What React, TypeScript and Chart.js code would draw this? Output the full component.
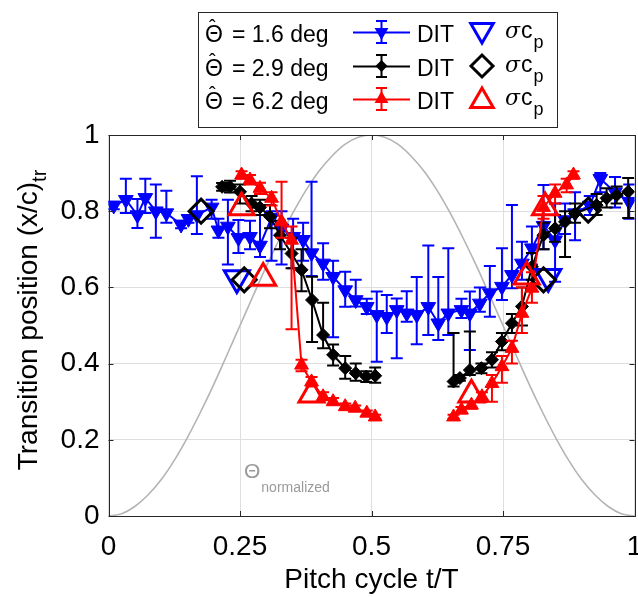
import React, { useEffect, useRef } from "react";
import { Chart, registerables } from "chart.js";

Chart.register(...registerables);

const FONT = "'Liberation Sans', Arial, Helvetica, sans-serif";

const xTicks = [0, 0.25, 0.5, 0.75, 1];
const xTickLabels = ["0", "0.25", "0.5", "0.75", "1"];
const yTicks = [0, 0.2, 0.4, 0.6, 0.8, 1];
const yTickLabels = ["0", "0.2", "0.4", "0.6", "0.8", "1"];

const xTitle = "Pitch cycle t/T";
const yTitleMain = "Transition position (x/c)";
const yTitleSub = "tr";
const curveLabelMain = "Θ";
const curveLabelSub = "normalized";

const legendAmplitudes = ["= 1.6 deg", "= 2.9 deg", "= 6.2 deg"];
const legendDit = "DIT";

// normalized pitch angle
const thetaX = [0, 0.025, 0.05, 0.075, 0.1, 0.125, 0.15, 0.175, 0.2, 0.225, 0.25, 0.275, 0.3, 0.325, 0.35, 0.375, 0.4, 0.425, 0.45, 0.475, 0.5, 0.525, 0.55, 0.575, 0.6, 0.625, 0.65, 0.675, 0.7, 0.725, 0.75, 0.775, 0.8, 0.825, 0.85, 0.875, 0.9, 0.925, 0.95, 0.975, 1];
const thetaY = [0, 0.006, 0.025, 0.055, 0.095, 0.146, 0.206, 0.273, 0.345, 0.422, 0.5, 0.578, 0.655, 0.727, 0.794, 0.854, 0.905, 0.945, 0.976, 0.994, 1, 0.994, 0.976, 0.945, 0.905, 0.854, 0.794, 0.727, 0.655, 0.578, 0.5, 0.422, 0.345, 0.273, 0.206, 0.146, 0.095, 0.055, 0.025, 0.006, 0];

// 1.6 deg DIT
const blueX = [0.010, 0.033, 0.055, 0.070, 0.090, 0.110, 0.138, 0.152, 0.168, 0.196, 0.209, 0.227, 0.247, 0.269, 0.288, 0.310, 0.329, 0.351, 0.370, 0.386, 0.408, 0.427, 0.450, 0.470, 0.491, 0.510, 0.529, 0.548, 0.567, 0.586, 0.608, 0.627, 0.646, 0.671, 0.687, 0.706, 0.725, 0.748, 0.767, 0.786, 0.805, 0.827, 0.849, 0.868, 0.887, 0.915, 0.935, 0.963, 0.990];
const blueY = [0.815, 0.830, 0.790, 0.835, 0.800, 0.795, 0.765, 0.780, 0.790, 0.810, 0.750, 0.760, 0.730, 0.733, 0.710, 0.783, 0.755, 0.733, 0.725, 0.690, 0.663, 0.628, 0.593, 0.567, 0.549, 0.528, 0.523, 0.541, 0.532, 0.528, 0.549, 0.506, 0.532, 0.541, 0.532, 0.558, 0.585, 0.602, 0.633, 0.663, 0.703, 0.762, 0.724, 0.777, 0.795, 0.815, 0.885, 0.850, 0.825];
const blueLo = [0.805, 0.795, 0.756, 0.795, 0.730, 0.770, 0.755, 0.770, 0.740, 0.780, 0.730, 0.660, 0.690, 0.700, 0.680, 0.670, 0.660, 0.650, 0.670, 0.630, 0.620, 0.469, 0.549, 0.550, 0.530, 0.405, 0.480, 0.414, 0.510, 0.451, 0.475, 0.462, 0.475, 0.520, 0.436, 0.536, 0.523, 0.567, 0.598, 0.620, 0.660, 0.700, 0.615, 0.740, 0.724, 0.790, 0.850, 0.810, 0.780];
const blueHi = [0.825, 0.885, 0.832, 0.885, 0.870, 0.854, 0.775, 0.790, 0.892, 0.830, 0.780, 0.830, 0.777, 0.775, 0.816, 0.800, 0.800, 0.780, 0.770, 0.877, 0.716, 0.670, 0.641, 0.620, 0.570, 0.589, 0.580, 0.571, 0.590, 0.627, 0.710, 0.627, 0.703, 0.570, 0.589, 0.600, 0.656, 0.703, 0.816, 0.720, 0.760, 0.869, 0.820, 0.820, 0.850, 0.840, 0.900, 0.890, 0.870];

// 2.9 deg DIT (two branches)
const blackX1 = [0.216, 0.231, 0.250, 0.272, 0.288, 0.307, 0.326, 0.348, 0.367, 0.387, 0.408, 0.427, 0.450, 0.470, 0.490, 0.507];
const blackY1 = [0.864, 0.864, 0.851, 0.820, 0.810, 0.786, 0.737, 0.689, 0.646, 0.567, 0.475, 0.423, 0.388, 0.375, 0.366, 0.368];
const blackLo1 = [0.854, 0.849, 0.820, 0.800, 0.790, 0.755, 0.700, 0.650, 0.590, 0.457, 0.440, 0.395, 0.360, 0.355, 0.352, 0.350];
const blackHi1 = [0.874, 0.880, 0.870, 0.840, 0.830, 0.816, 0.775, 0.730, 0.700, 0.628, 0.560, 0.450, 0.420, 0.400, 0.380, 0.390];
const blackX2 = [0.656, 0.668, 0.687, 0.709, 0.729, 0.748, 0.767, 0.786, 0.805, 0.827, 0.849, 0.868, 0.887, 0.928, 0.947, 0.966, 0.988];
const blackY2 = [0.353, 0.362, 0.383, 0.388, 0.410, 0.458, 0.506, 0.550, 0.654, 0.737, 0.755, 0.772, 0.794, 0.816, 0.834, 0.842, 0.851];
const blackLo2 = [0.340, 0.355, 0.370, 0.375, 0.390, 0.435, 0.480, 0.500, 0.620, 0.700, 0.720, 0.680, 0.770, 0.790, 0.810, 0.820, 0.782];
const blackHi2 = [0.480, 0.370, 0.484, 0.400, 0.430, 0.480, 0.530, 0.600, 0.690, 0.770, 0.790, 0.800, 0.820, 0.845, 0.860, 0.865, 0.887];

// 6.2 deg DIT (two branches)
const redX1 = [0.253, 0.269, 0.288, 0.310, 0.329, 0.348, 0.367, 0.386, 0.408, 0.427, 0.450, 0.469, 0.491, 0.507];
const redY1 = [0.895, 0.882, 0.860, 0.834, 0.772, 0.724, 0.396, 0.352, 0.313, 0.300, 0.287, 0.283, 0.270, 0.260];
const redLo1 = [0.885, 0.870, 0.845, 0.815, 0.730, 0.490, 0.380, 0.340, 0.305, 0.292, 0.280, 0.276, 0.264, 0.255];
const redHi1 = [0.905, 0.895, 0.875, 0.850, 0.877, 0.760, 0.410, 0.365, 0.325, 0.310, 0.295, 0.290, 0.277, 0.266];
const redX2 = [0.656, 0.671, 0.690, 0.710, 0.729, 0.748, 0.767, 0.786, 0.805, 0.827, 0.849, 0.871, 0.884];
const redY2 = [0.260, 0.278, 0.291, 0.313, 0.348, 0.392, 0.440, 0.532, 0.598, 0.810, 0.847, 0.869, 0.895];
const redLo2 = [0.255, 0.270, 0.282, 0.300, 0.300, 0.350, 0.400, 0.480, 0.560, 0.780, 0.820, 0.850, 0.885];
const redHi2 = [0.266, 0.286, 0.300, 0.325, 0.370, 0.420, 0.460, 0.600, 0.640, 0.840, 0.870, 0.885, 0.905];

// sigma c_p estimates
const blueSigmaX = [0.244, 0.836];
const blueSigmaY = [0.625, 0.628];
const blackSigmaX = [0.176, 0.258, 0.827, 0.912];
const blackSigmaY = [0.800, 0.620, 0.620, 0.803];
const redSigmaX = [0.253, 0.294, 0.386, 0.690, 0.795, 0.830];
const redSigmaY = [0.810, 0.625, 0.318, 0.318, 0.628, 0.810];

const BLUE = "#0000ff";
const BLACK = "#000000";
const RED = "#ff0000";
const AXIS = "#262626";

// target plot-area edges in the 638 x 597 canvas
const AREA = { left: 108.5, right: 634.5, top: 135, bottom: 516 };

const pts = (xs: number[], ys: number[]) => xs.map((x, i) => ({ x, y: ys[i] }));

function polygon(ctx: CanvasRenderingContext2D, p: [number, number][]) {
  ctx.beginPath();
  ctx.moveTo(p[0][0], p[0][1]);
  for (let i = 1; i < p.length; i++) ctx.lineTo(p[i][0], p[i][1]);
  ctx.closePath();
}

function marker(ctx: CanvasRenderingContext2D, kind: string, x: number, y: number, r: number) {
  const s = Math.sqrt(3) / 2;
  if (kind === "down") polygon(ctx, [[x, y + r], [x - s * r, y - r / 2], [x + s * r, y - r / 2]]);
  else if (kind === "up") polygon(ctx, [[x, y - r], [x + s * r, y + r / 2], [x - s * r, y + r / 2]]);
  else polygon(ctx, [[x - r, y], [x, y - r], [x + r, y], [x, y + r]]);
}

const errorBarPlugin = {
  id: "errorBars",
  beforeDatasetDraw(chart: any, args: any) {
    const ds = chart.data.datasets[args.index];
    if (!ds.errLo) return;
    const xs = chart.scales.x;
    const ys = chart.scales.y;
    const ctx: CanvasRenderingContext2D = chart.ctx;
    const a = chart.chartArea;
    ctx.save();
    ctx.beginPath();
    ctx.rect(a.left, a.top, a.right - a.left, a.bottom - a.top);
    ctx.clip();
    ctx.strokeStyle = ds.borderColor;
    ctx.lineWidth = 2;
    ds.data.forEach((p: any, i: number) => {
      const px = xs.getPixelForValue(p.x);
      const lo = ys.getPixelForValue(ds.errLo[i]);
      const hi = ys.getPixelForValue(ds.errHi[i]);
      ctx.beginPath();
      ctx.moveTo(px, lo);
      ctx.lineTo(px, hi);
      ctx.moveTo(px - 6, lo);
      ctx.lineTo(px + 6, lo);
      ctx.moveTo(px - 6, hi);
      ctx.lineTo(px + 6, hi);
      ctx.stroke();
    });
    ctx.restore();
  },
};

const decorPlugin = {
  id: "decor",
  afterDatasetsDraw(chart: any) {
    const ctx: CanvasRenderingContext2D = chart.ctx;
    const a = chart.chartArea;
    const xs = chart.scales.x;
    const ys = chart.scales.y;
    ctx.save();
    // inner ticks
    ctx.strokeStyle = AXIS;
    ctx.lineWidth = 1;
    ctx.beginPath();
    xTicks.forEach((v) => {
      const px = Math.round(xs.getPixelForValue(v)) + 0.5;
      ctx.moveTo(px, a.bottom);
      ctx.lineTo(px, a.bottom - 5);
      ctx.moveTo(px, a.top);
      ctx.lineTo(px, a.top + 5);
    });
    yTicks.forEach((v) => {
      const py = Math.round(ys.getPixelForValue(v)) + 0.5;
      ctx.moveTo(a.left, py);
      ctx.lineTo(a.left + 5, py);
      ctx.moveTo(a.right, py);
      ctx.lineTo(a.right - 5, py);
    });
    ctx.stroke();
    // box
    ctx.strokeRect(Math.round(a.left) + 0.5, Math.round(a.top) + 0.5, Math.round(a.right - a.left), Math.round(a.bottom - a.top));

    // curve label
    ctx.fillStyle = "#9a9a9a";
    ctx.textBaseline = "alphabetic";
    ctx.textAlign = "left";
    ctx.font = `21px ${FONT}`;
    ctx.fillText(curveLabelMain, 244, 478);
    const tw = ctx.measureText(curveLabelMain).width;
    ctx.font = `14px ${FONT}`;
    ctx.fillText(curveLabelSub, 244 + tw + 1, 492);

    // axis titles
    ctx.fillStyle = "#000";
    ctx.font = `28px ${FONT}`;
    ctx.textAlign = "center";
    ctx.fillText(xTitle, (a.left + a.right) / 2, 588);

    ctx.save();
    ctx.translate(37, 320);
    ctx.rotate(-Math.PI / 2);
    ctx.font = `28px ${FONT}`;
    const wm = ctx.measureText(yTitleMain).width;
    ctx.font = `20px ${FONT}`;
    const ws = ctx.measureText(yTitleSub).width;
    const start = -(wm + ws) / 2;
    ctx.textAlign = "left";
    ctx.font = `28px ${FONT}`;
    ctx.fillText(yTitleMain, start, 0);
    ctx.font = `20px ${FONT}`;
    ctx.fillText(yTitleSub, start + wm, 9);
    ctx.restore();

    // legend
    const L = 198, T = 12, R = 557, B = 127;
    ctx.fillStyle = "#fff";
    ctx.fillRect(L, T, R - L, B - T);
    ctx.strokeStyle = AXIS;
    ctx.lineWidth = 1;
    ctx.strokeRect(L + 0.5, T + 0.5, R - L, B - T);
    const rows = [32, 66, 99];
    const cols = [BLUE, BLACK, RED];
    const kinds = ["down", "diamond", "up"];
    rows.forEach((ry, i) => {
      ctx.fillStyle = "#000";
      ctx.textAlign = "left";
      ctx.textBaseline = "alphabetic";
      ctx.font = `23px ${FONT}`;
      ctx.fillText("Θ", 205, ry + 10);
      ctx.font = `20px ${FONT}`;
      ctx.fillText("ˆ", 209, ry + 2);
      ctx.font = `23px ${FONT}`;
      ctx.fillText(legendAmplitudes[i], 232, ry + 10);
      // DIT sample
      ctx.strokeStyle = cols[i];
      ctx.lineWidth = 2;
      ctx.beginPath();
      ctx.moveTo(353, ry + 0.5);
      ctx.lineTo(410, ry + 0.5);
      ctx.moveTo(381.5, ry - 11);
      ctx.lineTo(381.5, ry + 11);
      ctx.moveTo(376, ry - 11);
      ctx.lineTo(387, ry - 11);
      ctx.moveTo(376, ry + 11);
      ctx.lineTo(387, ry + 11);
      ctx.stroke();
      ctx.fillStyle = cols[i];
      marker(ctx, kinds[i], 381.5, ry, kinds[i] === "diamond" ? 6 : 8);
      ctx.fill();
      ctx.fillStyle = "#000";
      ctx.font = `23px ${FONT}`;
      ctx.fillText(legendDit, 417, ry + 10);
      // sigma sample
      ctx.strokeStyle = cols[i];
      ctx.lineWidth = 3;
      marker(ctx, kinds[i], 482, ry + (kinds[i] === "down" ? -2 : kinds[i] === "up" ? 2 : 0), kinds[i] === "diamond" ? 11 : 13);
      ctx.stroke();
      ctx.fillStyle = "#000";
      ctx.font = `italic 22px 'DejaVu Serif', serif`;
      ctx.fillText("σ", 505, ry + 6);
      const sw = ctx.measureText("σ").width;
      ctx.font = `23px ${FONT}`;
      ctx.fillText("c", 505 + sw + 1, ry + 6);
      const cw = ctx.measureText("c").width;
      ctx.font = `18px ${FONT}`;
      ctx.fillText("p", 505 + sw + cw + 2, ry + 16);
    });
    ctx.restore();
  },
};

function dataset(label: string, xs: number[], ys: number[], color: string, style: string, radius: number, order: number, lo?: number[], hi?: number[]) {
  const ds: any = {
    label,
    data: pts(xs, ys),
    borderColor: color,
    backgroundColor: color,
    borderWidth: 2,
    pointStyle: style === "diamond" ? "rectRot" : "triangle",
    rotation: style === "down" ? 180 : 0,
    pointRadius: radius,
    pointBorderWidth: 1,
    pointBackgroundColor: color,
    pointBorderColor: color,
    showLine: true,
    order,
  };
  if (lo) {
    ds.errLo = lo;
    ds.errHi = hi;
  }
  return ds;
}

function sigmaSet(label: string, xs: number[], ys: number[], color: string, style: string, radius: number, order: number) {
  return {
    label,
    data: pts(xs, ys),
    showLine: false,
    borderColor: color,
    backgroundColor: "rgba(0,0,0,0)",
    pointStyle: style === "diamond" ? "rectRot" : "triangle",
    rotation: style === "down" ? 180 : 0,
    pointRadius: radius,
    pointBorderWidth: 3,
    pointBackgroundColor: "rgba(0,0,0,0)",
    pointBorderColor: color,
    order,
  };
}

export default function App() {
  const ref = useRef<HTMLCanvasElement>(null);
  useEffect(() => {
    const canvas = ref.current!;
    const chart = new Chart(canvas, {
      type: "line",
      data: {
        datasets: [
          {
            label: "theta",
            data: pts(thetaX, thetaY),
            borderColor: "#b4b4b4",
            borderWidth: 1.6,
            pointRadius: 0,
            cubicInterpolationMode: "monotone",
            order: 20,
          } as any,
          dataset("b", blueX, blueY, BLUE, "down", 8.5, 12, blueLo, blueHi),
          dataset("k1", blackX1, blackY1, BLACK, "diamond", 6.5, 11, blackLo1, blackHi1),
          dataset("k2", blackX2, blackY2, BLACK, "diamond", 6.5, 11, blackLo2, blackHi2),
          dataset("r1", redX1, redY1, RED, "up", 8, 10, redLo1, redHi1),
          dataset("r2", redX2, redY2, RED, "up", 8, 10, redLo2, redHi2),
          sigmaSet("bs", blueSigmaX, blueSigmaY, BLUE, "down", 14.5, 3),
          sigmaSet("ks", blackSigmaX, blackSigmaY, BLACK, "diamond", 12, 2),
          sigmaSet("rs", redSigmaX, redSigmaY, RED, "up", 14.5, 1),
        ],
      },
      options: {
        responsive: false,
        animation: false,
        devicePixelRatio: 1,
        layout: { autoPadding: false, padding: { left: 0, right: 3.5, top: 135, bottom: 0 } },
        plugins: { legend: { display: false }, tooltip: { enabled: false } },
        scales: {
          x: {
            type: "linear",
            min: 0,
            max: 1,
            afterBuildTicks: (s: any) => {
              s.ticks = xTicks.map((v) => ({ value: v }));
            },
            afterFit: (s: any) => {
              s.height = 81;
              s.paddingLeft = 0;
              s.paddingRight = 0;
            },
            ticks: {
              callback: (_v: any, i: number) => xTickLabels[i],
              font: { family: FONT, size: 28 },
              color: "#000",
              padding: 14,
              maxRotation: 0,
              autoSkip: false,
            },
            grid: { color: "#dedede", drawTicks: false, lineWidth: 1 },
            border: { display: false },
          },
          y: {
            type: "linear",
            min: 0,
            max: 1,
            afterBuildTicks: (s: any) => {
              s.ticks = yTicks.map((v) => ({ value: v }));
            },
            afterFit: (s: any) => {
              s.width = 108.5;
              s.paddingTop = 0;
              s.paddingBottom = 0;
            },
            ticks: {
              callback: (_v: any, i: number) => yTickLabels[i],
              font: { family: FONT, size: 28 },
              color: "#000",
              padding: 9,
              autoSkip: false,
            },
            grid: { color: "#dedede", drawTicks: false, lineWidth: 1 },
            border: { display: false },
          },
        },
      } as any,
      plugins: [errorBarPlugin, decorPlugin],
    });
    // nudge layout padding until the plot area sits where the reference has it
    for (let k = 0; k < 3; k++) {
      const ca = chart.chartArea;
      const pad: any = (chart.options as any).layout.padding;
      const dl = AREA.left - ca.left;
      const dr = ca.right - AREA.right;
      const dt = AREA.top - ca.top;
      const db = ca.bottom - AREA.bottom;
      if (Math.abs(dl) + Math.abs(dr) + Math.abs(dt) + Math.abs(db) < 0.5) break;
      pad.left += dl;
      pad.right += dr;
      pad.top += dt;
      pad.bottom += db;
      chart.update();
    }
    return () => chart.destroy();
  }, []);
  return (
    <div style={{ position: "absolute", left: 0, top: 0, width: 638, height: 597, background: "#fff" }}>
      <canvas ref={ref} width={638} height={597} style={{ width: 638, height: 597, display: "block" }} />
    </div>
  );
}
